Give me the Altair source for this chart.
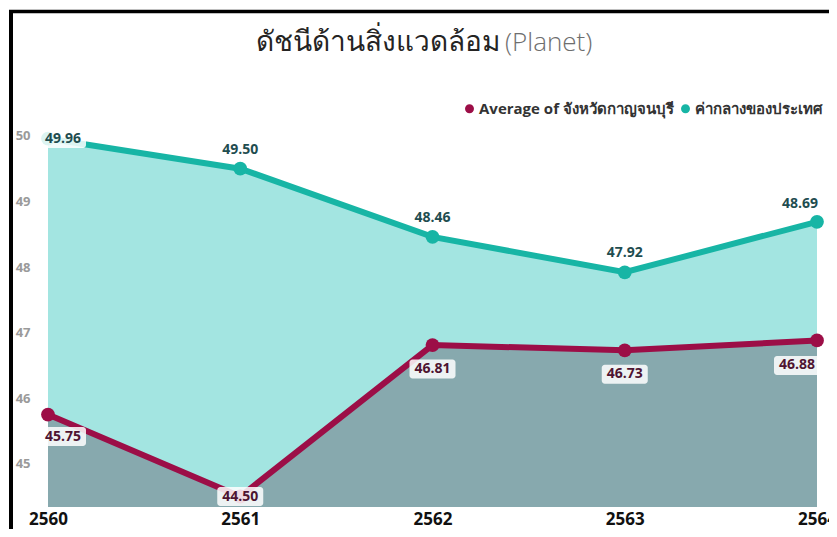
import altair as alt
import pandas as pd

years = [2560, 2561, 2562, 2563, 2564]
kanchanaburi = [45.75, 44.50, 46.81, 46.73, 46.88]
national = [49.96, 49.50, 48.46, 47.92, 48.69]
series_names = ["Average of จังหวัดกาญจนบุรี", "ค่ากลางของประเทศ"]
y_ticks = [45, 46, 47, 48, 49, 50]
title_main = "ดัชนีด้านสิ่งแวดล้อม"
title_sub = "(Planet)"

MAROON = "#9C0E47"
TEAL = "#17B5A5"
TEAL_FILL = "#A3E5E1"
GREY_FILL = "#87A9AE"

rows = []
for i, yr in enumerate(years):
    rows.append({"year": yr, "value": kanchanaburi[i], "series": series_names[0]})
    rows.append({"year": yr, "value": national[i], "series": series_names[1]})
df = pd.DataFrame(rows)

W, H = 769, 417
PAD_L, PAD_T = 40, 82

x_enc = alt.X("year:Q", scale=alt.Scale(domain=[2560, 2564], nice=False),
              axis=alt.Axis(values=years, format="d", title=None, grid=False,
                            domain=False, ticks=False, labelFlush=False,
                            labelFont="Open Sans", labelFontSize=17,
                            labelFontWeight="bold", labelColor="#111111",
                            labelPadding=4))
y_enc = alt.Y("value:Q", scale=alt.Scale(domain=[44.34, 50.70], nice=False, zero=False),
              axis=alt.Axis(values=y_ticks, format="d", title=None, grid=False, domain=False,
                            ticks=False, labelFont="Open Sans", labelFontSize=13,
                            labelFontWeight="bold", labelColor="#9A9A9A",
                            labelPadding=18))

base = alt.Chart(df)
nat = base.transform_filter(alt.datum.series == series_names[1])
kan = base.transform_filter(alt.datum.series == series_names[0])

area_nat = nat.mark_area(color=TEAL_FILL, opacity=1, clip=True).encode(x=x_enc, y=y_enc)
area_kan = kan.mark_area(color=GREY_FILL, opacity=1, clip=True).encode(x="year:Q", y="value:Q")

color_scale = alt.Scale(domain=series_names, range=[MAROON, TEAL])
color_enc = alt.Color("series:N", scale=color_scale,
                      legend=alt.Legend(title=None, orient="none", direction="horizontal",
                                        legendX=414, legendY=11, symbolType="circle",
                                        symbolSize=55, labelFont="Open Sans",
                                        labelFontSize=15, labelFontWeight="bold",
                                        labelColor="#333333", labelLimit=400,
                                        columnPadding=4, symbolOffset=0,
                                        labelOffset=2))

lines = base.mark_line(strokeWidth=6).encode(x="year:Q", y="value:Q", color=color_enc,
                                             detail="series:N")
points = base.mark_circle(size=190, opacity=1).encode(
    x="year:Q", y="value:Q", color=alt.Color("series:N", legend=None, scale=color_scale))

TXT = dict(font="Open Sans", fontSize=14, fontWeight="bold")


def tlabel(src, yrs, dx, dy, color):
    return src.transform_filter(alt.FieldOneOfPredicate(field="year", oneOf=yrs)).mark_text(
        dx=dx, dy=dy, color=color, **TXT).encode(x="year:Q", y="value:Q",
                                                 text=alt.Text("value:Q", format=".2f"))


def bg(src, yrs, dx, dy):
    return src.transform_filter(alt.FieldOneOfPredicate(field="year", oneOf=yrs)).mark_rect(
        width=46, height=19, xOffset=dx, yOffset=dy, cornerRadius=3,
        color="#FFFFFF", opacity=0.85).encode(x="year:Q", y="value:Q")


TL = "#1F4D50"
ML = "#4E1431"

labels = [
    bg(nat, [2560], 15, 0),
    tlabel(nat, [2560], 15, 0, TL),
    tlabel(nat, [2561, 2562, 2563], 0, -19, TL),
    tlabel(nat, [2564], -17, -18, TL),
    bg(kan, [2560], 15, 22), tlabel(kan, [2560], 15, 22, ML),
    bg(kan, [2561], 0, 0), tlabel(kan, [2561], 0, 0, ML),
    bg(kan, [2562, 2563], 0, 24), tlabel(kan, [2562, 2563], 0, 24, ML),
    bg(kan, [2564], -20, 25), tlabel(kan, [2564], -20, 25, ML),
]

one = pd.DataFrame({"a": [0]})
border_left = alt.Chart(one).mark_rule(color="#000000", strokeWidth=4).encode(
    x=alt.value(-37), y=alt.value(-80), y2=alt.value(440))
border_top = alt.Chart(one).mark_rule(color="#000000", strokeWidth=3.5).encode(
    x=alt.value(-39), x2=alt.value(782), y=alt.value(-78.5))
title_a = alt.Chart(one).mark_text(
    text=title_main, font="Open Sans", fontSize=28, color="#252423",
    align="right", baseline="middle").encode(x=alt.value(452), y=alt.value(-47))
title_b = alt.Chart(one).mark_text(
    text=title_sub, font="Open Sans", fontSize=26, fontWeight=300, color="#6E6E6E",
    align="left", baseline="middle").encode(x=alt.value(457), y=alt.value(-47))

chart = alt.layer(area_nat, area_kan, lines, points, *labels,
                  border_left, border_top, title_a, title_b).properties(
    width=W, height=H,
    padding={"left": PAD_L, "top": PAD_T, "right": 12, "bottom": 22},
    autosize=alt.AutoSizeParams(type="none"),
    background="#FFFFFF",
).configure_view(stroke=None)

chart.save("out.html", embed_options={"renderer": "svg", "actions": False})
